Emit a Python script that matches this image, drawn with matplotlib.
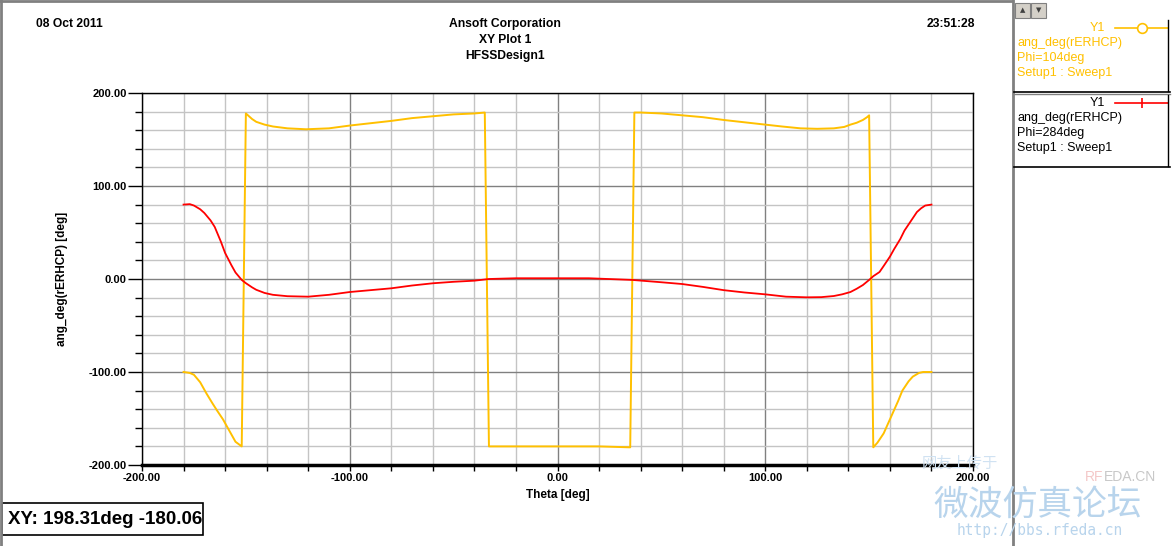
import matplotlib
matplotlib.use("Agg")
import matplotlib.pyplot as plt
from matplotlib.lines import Line2D
from matplotlib.patches import Rectangle
from matplotlib.transforms import Bbox, TransformedBbox
from matplotlib.ticker import MultipleLocator, FormatStrFormatter

plt.rcParams['font.family'] = ['Liberation Sans', 'DejaVu Sans']

# Phi=104deg curve (yellow)
theta_104 = [-180, -177, -175, -172, -169, -166, -164, -161, -159, -157, -155, -152, -150, -147,
             -145, -141, -137, -130, -121, -110, -100, -90, -80, -70, -60, -50, -40, -35, -33,
             -20, 0, 20, 35, 37, 40, 50, 60, 70, 80, 90, 100, 108, 117, 125, 133, 138, 141, 144,
             147, 149, 150, 152, 154, 157, 160, 162, 164, 166, 169, 171, 174, 176, 178, 180]
phase_104 = [-100, -101, -103, -111, -123, -134, -141, -151, -159, -167, -175, -180, 178, 172,
             169, 166, 164, 162, 161, 162, 165, 167.5, 170, 173, 175, 177, 178, 179, -180,
             -180, -180, -180, -181, 179, 179, 178, 176, 174, 171, 168.5, 166, 164, 162, 161.5, 162, 163.5, 166, 168,
             171, 174, 176, -181, -176, -166, -151, -141, -131, -120, -110, -105, -101, -100, -100, -100]

# Phi=284deg curve (red)
theta_284 = [-180, -177, -175, -172, -170, -167, -165, -162, -160, -157, -155, -152, -150, -147,
             -145, -141, -137, -130, -120, -110, -100, -90, -80, -70, -60, -50, -40, -33, -20,
             0, 15, 36, 50, 60, 70, 80, 90, 100, 110, 120, 127, 133, 137, 141, 144, 147,
             150, 152, 155, 157, 160, 162, 165, 167, 170, 173, 175, 177, 180]
phase_284 = [80, 80.5, 79, 75, 71, 63, 56, 40, 28, 15, 7, -1, -4.5, -9,
             -11.6, -15, -17, -18.5, -19, -17, -14, -12, -10, -7, -4.6, -3, -1.8, 0, 0.8,
             0.8, 0.8, -1, -3.5, -5.4, -8.5, -12, -14.5, -16.5, -19, -19.7, -19.5, -18.3, -16.5, -14, -10.5, -6.5,
             -1, 3, 7.5, 14, 24, 32, 43, 52, 62, 72, 76, 79, 80]

W, H = 1172, 546
yellow = '#ffc000'
red = '#ff0000'

def fx(px):
    return px / W

def fy(py):
    return 1 - py / H

fig = plt.figure(figsize=(W / 100, H / 100), dpi=100)
ax = fig.add_axes([fx(142), fy(465), fx(973) - fx(142), fy(93) - fy(465)])

ax.plot(theta_104, phase_104, color=yellow, lw=1.4, zorder=3)
ax.plot(theta_284, phase_284, color=red, lw=1.3, zorder=4)

ax.set_xlim(-200, 200)
ax.set_ylim(-200, 200)
ax.xaxis.set_major_locator(MultipleLocator(100))
ax.xaxis.set_minor_locator(MultipleLocator(20))
ax.yaxis.set_major_locator(MultipleLocator(100))
ax.yaxis.set_minor_locator(MultipleLocator(20))
ax.xaxis.set_major_formatter(FormatStrFormatter('%.2f'))
ax.yaxis.set_major_formatter(FormatStrFormatter('%.2f'))
ax.set_axisbelow(True)
ax.grid(which='major', color='#808080', lw=1)
ax.grid(which='minor', color='#c4c4c4', lw=1)
ax.tick_params(which='both', labelsize=8, width=1, direction='out')
ax.tick_params(axis='y', which='major', length=10, pad=1)
ax.tick_params(axis='y', which='minor', length=5)
ax.tick_params(axis='x', which='major', length=4, pad=2)
ax.tick_params(axis='x', which='minor', length=4)
for lab in ax.get_xticklabels() + ax.get_yticklabels():
    lab.set_fontweight('bold')
for s in ax.spines.values():
    s.set_color('black')
    s.set_linewidth(1)
ax.spines['bottom'].set_linewidth(2.5)

ax.set_xlabel('Theta [deg]', fontsize=8.5, fontweight='bold', labelpad=4)
ax.set_ylabel('ang_deg(rERHCP) [deg]', fontsize=8.5, fontweight='bold', labelpad=15)

# header
fig.text(fx(36), fy(24), '08 Oct 2011', fontsize=8.7, fontweight='bold', va='center', ha='left')
fig.text(fx(505), fy(24), 'Ansoft Corporation', fontsize=8.7, fontweight='bold', va='center', ha='center')
fig.text(fx(505), fy(40), 'XY Plot 1', fontsize=8.7, fontweight='bold', va='center', ha='center')
fig.text(fx(505), fy(56), 'HFSSDesign1', fontsize=8.7, fontweight='bold', va='center', ha='center')
fig.text(fx(975), fy(24), '23:51:28', fontsize=8.7, fontweight='bold', va='center', ha='right')

# window frame lines
fig.add_artist(Line2D([fx(0), fx(1012)], [fy(0.5), fy(0.5)], color='#808080', lw=2))
fig.add_artist(Line2D([fx(0.5), fx(0.5)], [fy(0), fy(546)], color='#808080', lw=2))
fig.add_artist(Line2D([fx(1013), fx(1013)], [fy(0), fy(546)], color='#808080', lw=2))

# legend panel
for bx, sym in [(1015, '\u25b2'), (1031, '\u25bc')]:
    fig.add_artist(Rectangle((fx(bx), fy(18)), fx(15), fy(3) - fy(18), facecolor='#d4d0c8',
                             edgecolor='#808080', lw=0.8))
    fig.text(fx(bx + 7.5), fy(10.5), sym, fontsize=5, ha='center', va='center', color='#404040',
             family=['DejaVu Sans'])

entries = [
    (yellow, yellow, ['ang_deg(rERHCP)', 'Phi=104deg', 'Setup1 : Sweep1'], 28, 'o'),
    ('black', red, ['ang_deg(rERHCP)', 'Phi=284deg', 'Setup1 : Sweep1'], 103, '|'),
]
for tcol, lc, lines, y0, mk in entries:
    fig.text(fx(1105), fy(y0), 'Y1', fontsize=9, color=tcol, ha='right', va='center')
    fig.add_artist(Line2D([fx(1115), fx(1168)], [fy(y0), fy(y0)], color=lc, lw=1.2))
    fig.add_artist(Line2D([fx(1142)], [fy(y0)], color=lc, marker=mk, markersize=7,
                          markerfacecolor='white', markeredgecolor=lc, markeredgewidth=1.2))
    for i, t in enumerate(lines):
        fig.text(fx(1017), fy(y0 + 15 * (i + 1)), t, fontsize=9, color=tcol, ha='left', va='center')
fig.add_artist(Line2D([fx(1014), fx(1170)], [fy(91.5), fy(91.5)], color='black', lw=1.2))
fig.add_artist(Line2D([fx(1014), fx(1170)], [fy(94), fy(94)], color='#808080', lw=1))
fig.add_artist(Line2D([fx(1014), fx(1170)], [fy(167), fy(167)], color='black', lw=1.2))
fig.add_artist(Line2D([fx(1168), fx(1168)], [fy(20), fy(91)], color='black', lw=1))
fig.add_artist(Line2D([fx(1168), fx(1168)], [fy(95), fy(166)], color='black', lw=1))

# cursor readout box
box = Rectangle((fx(2), fy(535)), fx(201), fy(503) - fy(535), facecolor='white', edgecolor='black', lw=1.2)
fig.add_artist(box)
t = fig.text(fx(8), fy(520), 'XY: 198.31deg -180.06deg', fontsize=13.5, fontweight='bold', ha='left', va='center')
t.set_clip_on(True)
t.set_clip_box(TransformedBbox(Bbox([[fx(2), fy(535)], [fx(202), fy(503)]]), fig.transFigure))

# watermark
wm = '#b8d4ec'
fig.text(fx(960), fy(463), '网友上传于', fontsize=11, color='#d0e2f2', ha='center', va='center',
         family=['Noto Sans CJK SC', 'DejaVu Sans'])
fig.text(fx(1103), fy(477), 'RF', fontsize=10, color='#f4c8c8', ha='right', va='center')
fig.text(fx(1104), fy(477), 'EDA.CN', fontsize=10, color='#c8c8c8', ha='left', va='center')
fig.text(fx(1038), fy(505), '微波仿真论坛', fontsize=25, color=wm, ha='center', va='center',
         family=['Noto Sans CJK SC', 'DejaVu Sans'])
fig.text(fx(1040), fy(531), 'http://bbs.rfeda.cn', fontsize=10.5, color=wm, ha='center', va='center',
         family=['DejaVu Sans Mono'])

fig.savefig('out.png', dpi=100, facecolor='white')
